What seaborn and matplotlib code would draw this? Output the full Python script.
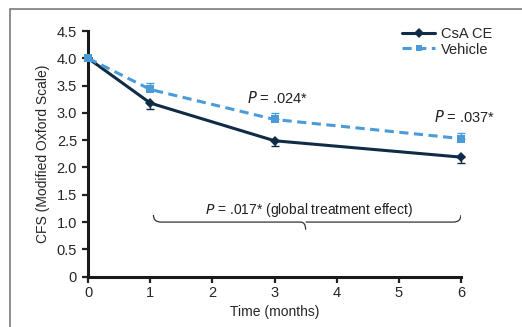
import numpy as np
import pandas as pd
import matplotlib
matplotlib.use("Agg")
import matplotlib.pyplot as plt
from matplotlib.path import Path
from matplotlib.patches import PathPatch, Rectangle
import seaborn as sns

months = [0, 1, 3, 6]
csa_ce = [4.0, 3.18, 2.49, 2.19]
vehicle = [4.0, 3.43, 2.88, 2.53]
csa_err = [0.0, 0.10, 0.10, 0.10]
vehicle_err = [0.0, 0.11, 0.11, 0.11]
y_ticks = [0, 0.5, 1.0, 1.5, 2.0, 2.5, 3.0, 3.5, 4.0, 4.5]
y_tick_labels = ["0", "0.5", "1.0", "1.5", "2.0", "2.5", "3.0", "3.5", "4.0", "4.5"]

df = pd.DataFrame({
    "Time": months * 2,
    "CFS": csa_ce + vehicle,
    "Group": ["CsA CE"] * 4 + ["Vehicle"] * 4,
})

sns.set_style("ticks")
plt.rcParams["font.family"] = ["Liberation Sans Narrow", "Liberation Sans", "DejaVu Sans"]

navy = "#0f2b46"
blue = "#4a9bd8"

fig = plt.figure(figsize=(5.22, 3.27), dpi=100)
ax = fig.add_axes([0.169, 0.154, 0.714, 0.751])

# outer frame of the figure panel
fig.patches.append(Rectangle((10 / 522, -0.5), 2, 1.5 - 9 / 327, transform=fig.transFigure,
                             fill=False, edgecolor="#7a7a7a", linewidth=1.2))

sns.lineplot(data=df, x="Time", y="CFS", hue="Group", style="Group",
             palette={"CsA CE": navy, "Vehicle": blue},
             markers={"CsA CE": "D", "Vehicle": "s"},
             dashes={"CsA CE": "", "Vehicle": (3, 1.8)},
             linewidth=2.2, markersize=5.5, markeredgewidth=0,
             ax=ax, clip_on=False, zorder=3)

# one-sided error bars
ax.errorbar(months, csa_ce, yerr=[csa_err, [0] * 4], fmt="none", ecolor=navy,
            elinewidth=1.0, capsize=3, capthick=1.0, clip_on=False, zorder=2)
ax.errorbar(months, vehicle, yerr=[[0] * 4, vehicle_err], fmt="none", ecolor=blue,
            elinewidth=1.0, capsize=3, capthick=1.0, clip_on=False, zorder=2)

ax.set_xlim(0, 6)
ax.set_ylim(0, 4.5)
ax.set_xticks([0, 1, 2, 3, 4, 5, 6])
ax.set_yticks(y_ticks)
ax.set_yticklabels(y_tick_labels)
ax.tick_params(labelsize=10.5, length=4, width=1.6, color="#222222")
ax.tick_params(axis="y", pad=4)
ax.tick_params(axis="x", pad=3)
for s in ["left", "bottom"]:
    ax.spines[s].set_linewidth(2.2)
    ax.spines[s].set_color("#1a1a1a")
sns.despine(ax=ax)

ax.set_xlabel("Time (months)", fontsize=10, labelpad=3)
ax.set_ylabel("CFS (Modified Oxford Scale)", fontsize=10, labelpad=5)

# annotations
ax.text(3.05, 3.28, r"$\it{P}$ = .024*", ha="center", va="center", fontsize=10.5, color="#222222")
ax.text(6.06, 2.93, r"$\it{P}$ = .037*", ha="center", va="center", fontsize=10.5, color="#222222")
ax.text(3.55, 1.22, r"$\it{P}$ = .017* (global treatment effect)", ha="center", va="center",
        fontsize=10, color="#222222")

# curly brace from month 1 to month 6
x0, x1, xm = 1.05, 6.0, 3.5
yb, yt, ytip = 1.0, 1.13, 0.86
verts = [(x0, yt), (x0, yb), (x0 + 0.12, yb), (xm - 0.08, yb), (xm, yb), (xm, ytip),
         (xm, yb), (xm + 0.08, yb), (x1 - 0.12, yb), (x1, yb), (x1, yt)]
codes = [Path.MOVETO, Path.CURVE3, Path.CURVE3, Path.LINETO, Path.CURVE3, Path.CURVE3,
         Path.MOVETO, Path.CURVE3, Path.LINETO, Path.CURVE3, Path.CURVE3]
ax.add_patch(PathPatch(Path(verts, codes), fill=False, edgecolor="#333333", linewidth=0.9))

leg = ax.legend(loc="upper right", bbox_to_anchor=(1.1, 1.04), frameon=False, fontsize=10.5,
                handlelength=2.3, handletextpad=0.4, labelspacing=0.1, borderaxespad=0)
for h in leg.legend_handles:
    h.set_markersize(5)

fig.savefig("out.png", dpi=100)
